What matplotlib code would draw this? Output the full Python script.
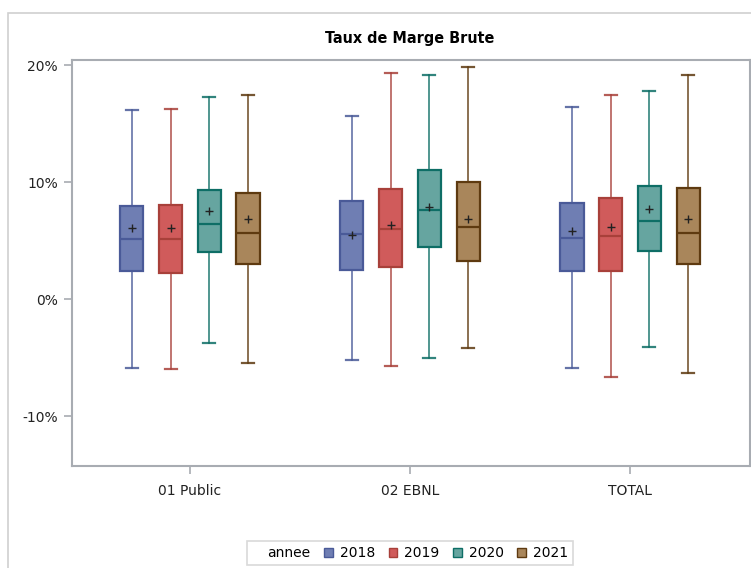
import numpy as np
import matplotlib.pyplot as plt
from matplotlib.patches import Rectangle, Patch
from matplotlib.ticker import FuncFormatter

# Taux de marge brute (%) par groupe et par année
groupes = ["01 Public", "02 EBNL", "TOTAL"]
annees = ["2018", "2019", "2020", "2021"]

# une ligne par groupe, une colonne par année
wlo = [[-5.92, -6.01, -3.73, -5.44],
       [-5.20, -5.73, -5.04, -4.22],
       [-5.93, -6.64, -4.07, -6.35]]
q1 = [[2.37, 2.25, 4.02, 2.99],
      [2.48, 2.76, 4.42, 3.25],
      [2.42, 2.39, 4.13, 3.02]]
med = [[5.15, 5.10, 6.38, 5.61],
       [5.53, 5.98, 7.61, 6.13],
       [5.24, 5.38, 6.69, 5.67]]
q3 = [[7.95, 8.00, 9.32, 9.03],
      [8.35, 9.43, 11.03, 10.03],
      [8.18, 8.60, 9.66, 9.52]]
whi = [[16.15, 16.21, 17.24, 17.46],
       [15.67, 19.29, 19.15, 19.80],
       [16.44, 17.44, 17.75, 19.17]]
moy = [[6.04, 6.04, 7.55, 6.87],
       [5.50, 6.30, 7.84, 6.81],
       [5.84, 6.12, 7.66, 6.81]]

remplissage = ["#6F7EB3", "#D05B5B", "#66A5A0", "#A9865B"]
contour = ["#4A5A98", "#A8403A", "#0E6E66", "#5E3A10"]

fig = plt.figure(figsize=(7.51, 5.68), dpi=100)

# cadre gris clair autour du graphique
fig.add_artist(Rectangle((8 / 751, -0.1), 1.2, 1 - 13 / 568 + 0.1,
                         transform=fig.transFigure, fill=False,
                         edgecolor="#D0D0D0", linewidth=1.2))

ax = fig.add_axes([72 / 751, 1 - 466 / 568, 678 / 751, 406 / 568])

decalage = (np.arange(len(annees)) - 1.5) * 0.176
for j, an in enumerate(annees):
    stats = []
    for i in range(len(groupes)):
        stats.append(dict(whislo=wlo[i][j], q1=q1[i][j], med=med[i][j],
                          q3=q3[i][j], whishi=whi[i][j], mean=moy[i][j],
                          fliers=[]))
    pos = np.arange(len(groupes)) + decalage[j]
    ax.bxp(stats, positions=pos, widths=0.105, capwidths=0.055,
           patch_artist=True, showmeans=True,
           boxprops=dict(facecolor=remplissage[j], edgecolor=contour[j], linewidth=1.6),
           medianprops=dict(color=contour[j], linewidth=1.6),
           whiskerprops=dict(color=contour[j], linewidth=1.2, alpha=0.85),
           capprops=dict(color=contour[j], linewidth=1.6, alpha=0.85),
           meanprops=dict(marker="+", markeredgecolor="#222222",
                          markersize=5.5, markeredgewidth=1.0))

ax.set_xlim(-0.536, 2.545)
ax.set_ylim(-14.27, 20.43)
ax.set_xticks(range(len(groupes)))
ax.set_xticklabels(groupes)
ax.set_yticks([-10, 0, 10, 20])
ax.yaxis.set_major_formatter(FuncFormatter(lambda v, p: f"{v:.0f}%"))

for s in ax.spines.values():
    s.set_color("#A8ACB2")
    s.set_linewidth(1.5)
ax.tick_params(axis="both", color="#A8ACB2", length=6, width=1.2,
               labelsize=10, labelcolor="#222222")
ax.tick_params(axis="x", pad=7)
ax.tick_params(axis="y", pad=4)

fig.text(410 / 751, 1 - 38 / 568, "Taux de Marge Brute", ha="center", va="center",
         fontsize=11.5, fontweight="bold", fontstretch="condensed",
         family=["DejaVu Sans"])

# légende : le titre "annee" est placé sur la même ligne que les entrées
poignees = [Patch(visible=False)] + [
    Patch(facecolor=remplissage[k], edgecolor=contour[k], linewidth=1.0)
    for k in range(len(annees))]
etiquettes = ["annee"] + annees
leg = fig.legend(poignees, etiquettes, loc="center", ncol=5,
                 bbox_to_anchor=(410 / 751, 1 - 553 / 568),
                 frameon=True, fancybox=False, edgecolor="#D0D0D0",
                 fontsize=10, handlelength=0.6, handleheight=0.6,
                 handletextpad=0.5, columnspacing=1.0, borderpad=0.35)
leg.get_frame().set_linewidth(1.2)

fig.savefig("out.png", dpi=100)
